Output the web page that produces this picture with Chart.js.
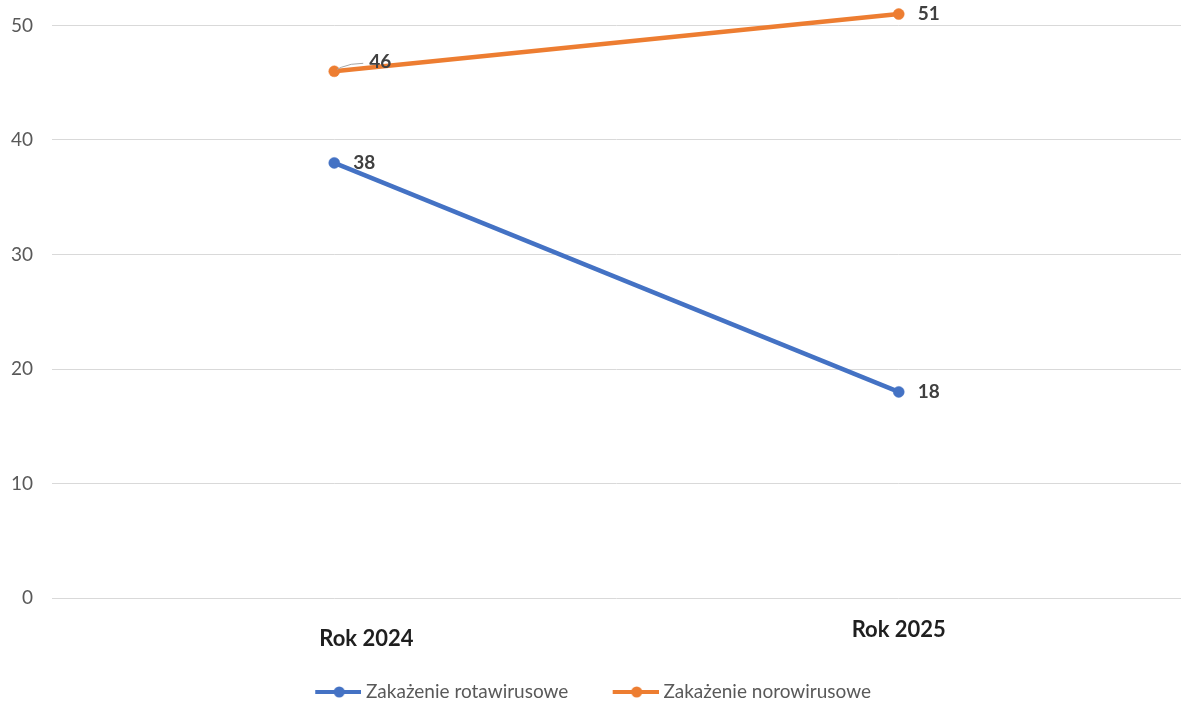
<!DOCTYPE html>
<html lang="pl">
<head>
<meta charset="utf-8">
<title>Zakażenia</title>
<script src="https://cdn.jsdelivr.net/npm/chart.js@4/dist/chart.umd.min.js"></script>
<style>
  html, body { margin: 0; padding: 0; background: #ffffff; }
  #wrap { width: 1181px; height: 703px; position: relative; }
</style>
</head>
<body>
<div id="wrap"><canvas id="c"></canvas></div>
<script>
// ---- data ----
const categories = ['Rok 2024', 'Rok 2025'];
const seriesNames = ['Zakażenie rotawirusowe', 'Zakażenie norowirusowe'];
const rotaValues = [38, 18];
const noroValues = [46, 51];
const yTicks = [0, 10, 20, 30, 40, 50];
const yMax = 52; // axis headroom so the 51 point is inside the plot area

// ---- styles ----
const colors = ['#4472C4', '#ED7D31'];
const FONT = 'Lato, "Open Sans", "Liberation Sans", sans-serif';

// legend marker: transparent lead-in, then a line with a dot
function makeMarker(color) {
  const c = document.createElement('canvas');
  c.width = 85; c.height = 12;
  const g = c.getContext('2d');
  const x0 = 85 - 46;
  g.strokeStyle = color; g.lineWidth = 4; g.lineCap = 'butt';
  g.beginPath(); g.moveTo(x0, 6); g.lineTo(85, 6); g.stroke();
  g.fillStyle = color;
  g.beginPath(); g.arc(x0 + 24, 6, 5.5, 0, Math.PI * 2); g.fill();
  return c;
}
const markers = colors.map(makeMarker);

// data label plugin
const labelOffsets = { '1-0': { dx: 35, dy: -9, leader: [[7, -4], [17, -7], [29, -8]] } };
const dataLabels = {
  id: 'dataLabels',
  afterDatasetsDraw(chart) {
    const ctx = chart.ctx;
    ctx.save();
    ctx.font = 'bold 19px ' + FONT;
    ctx.fillStyle = '#404040';
    ctx.textAlign = 'left';
    ctx.textBaseline = 'middle';
    chart.data.datasets.forEach((ds, di) => {
      const meta = chart.getDatasetMeta(di);
      meta.data.forEach((pt, i) => {
        const o = labelOffsets[di + '-' + i] || { dx: 19, dy: 0 };
        if (o.leader) {
          ctx.save();
          ctx.strokeStyle = '#a6a6a6';
          ctx.lineWidth = 1;
          ctx.beginPath();
          ctx.moveTo(pt.x + 3, pt.y - 2);
          o.leader.forEach(p => ctx.lineTo(pt.x + p[0], pt.y + p[1]));
          ctx.stroke();
          ctx.restore();
        }
        ctx.fillText(String(ds.data[i]), pt.x + o.dx, pt.y + o.dy);
      });
    });
    ctx.restore();
  }
};

new Chart(document.getElementById('c'), {
  type: 'line',
  data: {
    labels: categories,
    datasets: [
      { label: seriesNames[0], data: rotaValues },
      { label: seriesNames[1], data: noroValues }
    ].map((d, i) => Object.assign(d, {
      borderColor: colors[i],
      backgroundColor: colors[i],
      borderWidth: 4.5,
      pointRadius: 5.5,
      pointBorderWidth: 0.5,
      pointHoverRadius: 5.5,
      tension: 0,
      clip: false
    }))
  },
  options: {
    responsive: true,
    maintainAspectRatio: false,
    animation: false,
    events: [],
    layout: { autoPadding: false, padding: { top: 2.6, left: -29, right: 0, bottom: -8.5 } },
    scales: {
      x: {
        offset: true,
        grid: { display: false, drawTicks: false },
        border: { display: false },
        ticks: {
          padding: 20,
          color: '#1f1f1f',
          maxRotation: 0,
          autoSkip: false,
          font: (ctx) => ({ family: FONT, size: 22, weight: 'bold', lineHeight: ctx.index === 0 ? '42px' : '24px' }),
          callback: function (v, i) {
            const l = this.getLabelForValue(v);
            return i === 0 ? '            ' + l : l;
          }
        },
        afterFit(s) { s.height = 74.5; s.paddingLeft = 0; s.paddingRight = 0; }
      },
      y: {
        min: yTicks[0],
        max: yMax,
        grid: { color: '#d9d9d9', lineWidth: 1, drawTicks: false },
        border: { display: false },
        afterBuildTicks(s) { s.ticks = yTicks.map(v => ({ value: v })); },
        ticks: {
          padding: 19,
          color: '#595959',
          font: { family: FONT, size: 19 }
        },
        afterFit(s) { s.width = 81; s.paddingTop = 0; s.paddingBottom = 0; }
      }
    },
    plugins: {
      tooltip: { enabled: false },
      legend: {
        position: 'bottom',
        labels: {
          usePointStyle: true,
          pointStyleWidth: 75.5,
          padding: 10,
          color: '#595959',
          font: { family: FONT, size: 19 },
          generateLabels(chart) {
            return Chart.defaults.plugins.legend.labels.generateLabels(chart)
              .map((it, i) => Object.assign(it, { pointStyle: markers[i] }));
          }
        }
      }
    }
  },
  plugins: [dataLabels]
});
</script>
</body>
</html>
